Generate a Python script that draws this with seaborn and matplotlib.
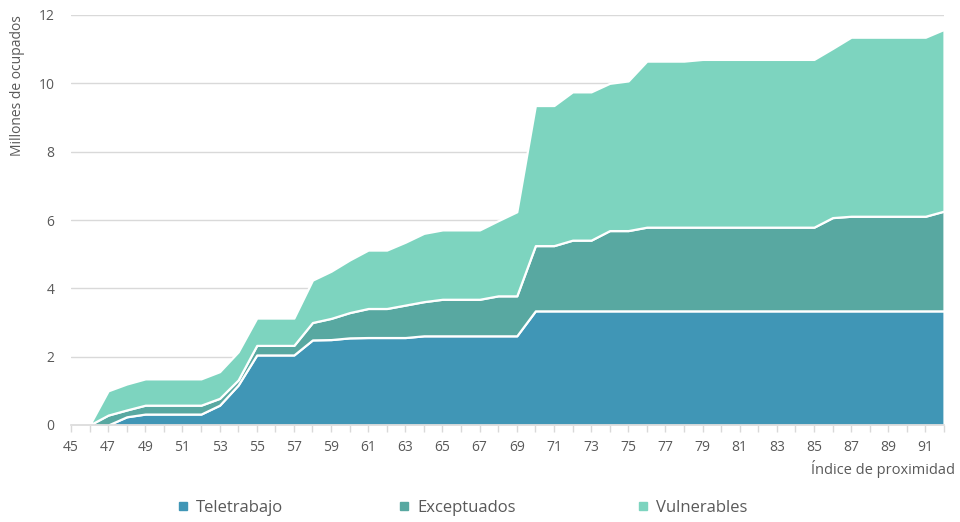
import numpy as np
import matplotlib
matplotlib.use("Agg")
import matplotlib.pyplot as plt
from matplotlib.lines import Line2D
from matplotlib.ticker import MultipleLocator
import seaborn as sns

# ---- data ----
indice = list(range(45, 93))
teletrabajo = [0, 0, 0, 0.24, 0.32, 0.32, 0.32, 0.32, 0.58, 1.17, 2.05, 2.05, 2.05,
               2.49, 2.50, 2.55, 2.56, 2.56, 2.56, 2.61, 2.61, 2.61, 2.61, 2.61, 2.61,
               3.34, 3.34, 3.34, 3.34, 3.34, 3.34, 3.34, 3.34, 3.34, 3.34, 3.34, 3.34,
               3.34, 3.34, 3.34, 3.34, 3.34, 3.34, 3.34, 3.34, 3.34, 3.34, 3.34]
exceptuados = [0, 0, 0.29, 0.20, 0.26, 0.26, 0.26, 0.26, 0.20, 0.15, 0.28, 0.28, 0.28,
               0.51, 0.62, 0.74, 0.85, 0.85, 0.95, 1.00, 1.07, 1.07, 1.07, 1.17, 1.17,
               1.91, 1.91, 2.07, 2.07, 2.35, 2.35, 2.45, 2.45, 2.45, 2.45, 2.45, 2.45,
               2.45, 2.45, 2.45, 2.45, 2.73, 2.77, 2.77, 2.77, 2.77, 2.77, 2.92]
vulnerables = [0, 0, 0.71, 0.76, 0.77, 0.77, 0.77, 0.77, 0.78, 0.82, 0.80, 0.80, 0.80,
               1.24, 1.38, 1.54, 1.71, 1.71, 1.84, 2.00, 2.03, 2.03, 2.03, 2.20, 2.46,
               4.10, 4.10, 4.34, 4.34, 4.31, 4.38, 4.86, 4.86, 4.86, 4.91, 4.91, 4.91,
               4.91, 4.91, 4.91, 4.91, 4.95, 5.24, 5.24, 5.24, 5.24, 5.24, 5.32]
series_names = ["Teletrabajo", "Exceptuados", "Vulnerables"]
colors = ["#4096b6", "#58a8a1", "#7dd4bf"]

sns.set_theme(style="white")
plt.rcParams["font.family"] = ["Open Sans", "DejaVu Sans"]

fig = plt.figure(figsize=(9.6, 5.22), dpi=100)
ax = fig.add_axes([71 / 960, 1 - 425 / 522, (944 - 71) / 960, (425 - 15) / 522])

ax.stackplot(indice, teletrabajo, exceptuados, vulnerables, colors=colors,
             edgecolor="white", linewidth=1.6, zorder=2)

ax.set_xlim(45, 92)
ax.set_ylim(0, 12)
ax.yaxis.set_major_locator(MultipleLocator(2))
ax.grid(axis="y", color="#d9d9d9", linewidth=1, zorder=0)
ax.grid(axis="x", visible=False)
ax.set_axisbelow(True)

for s in ["top", "right", "left"]:
    ax.spines[s].set_visible(False)
ax.spines["bottom"].set_color("#d9d9d9")
ax.spines["bottom"].set_linewidth(1.2)
ax.spines["bottom"].set_zorder(3)

ax.set_xticks([v for v in indice if v % 2 == 1])
ax.set_xticks([v for v in indice if v % 2 == 0], minor=True)
ax.tick_params(axis="y", length=0, pad=12, labelsize=10, labelcolor="#595959")
ax.tick_params(axis="x", which="both", bottom=True, length=5, width=1,
               color="#d9d9d9", direction="out")
ax.tick_params(axis="x", which="major", pad=6, labelsize=10, labelcolor="#595959")

ax.set_xlabel("")
ax.set_ylabel("")
fig.text(18 / 960, 1 - 86 / 522, "Millones de ocupados", rotation=90,
         ha="center", va="center", fontsize=10, color="#595959")
fig.text(955 / 960, 1 - 469 / 522, "Índice de proximidad", ha="right",
         va="center", fontsize=10.5, color="#595959")

# legend: three fixed-position entries
leg_x = [176, 397, 636]
for name, c, xp in zip(series_names, colors, leg_x):
    h = Line2D([], [], marker="s", linestyle="none", markersize=5.4, color=c)
    lg = fig.legend([h], [name], loc="center left",
                    bbox_to_anchor=(xp / 960, 1 - 508 / 522), frameon=False,
                    fontsize=12, handlelength=0.8, handletextpad=0.42,
                    borderpad=0, borderaxespad=0)
    for t in lg.get_texts():
        t.set_color("#595959")

fig.savefig("out.png", dpi=100)
